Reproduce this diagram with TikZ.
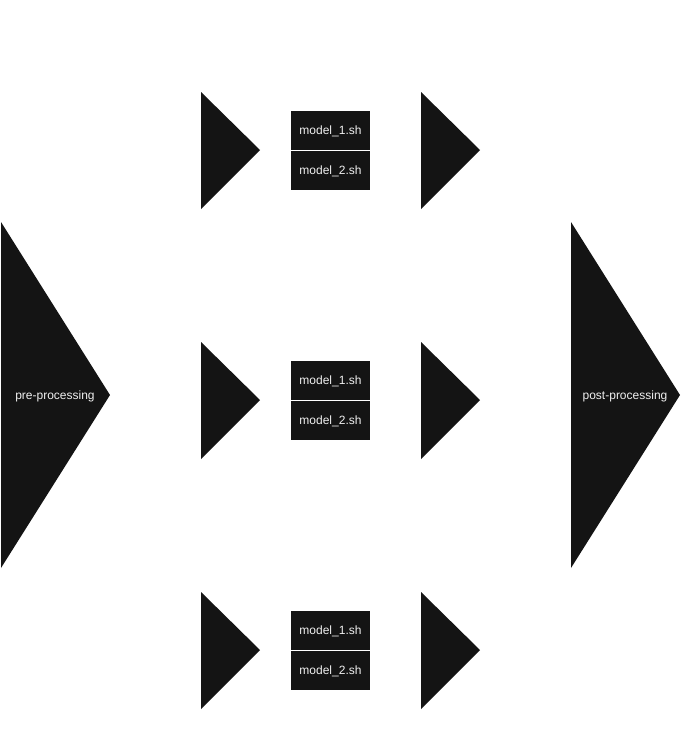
\documentclass[tikz,border=0pt]{standalone}
\usepackage{fontspec}
\setmainfont{Liberation Sans}
\definecolor{shapefill}{HTML}{141414}
\definecolor{labeltext}{HTML}{F0F0F0}
\begin{document}
\begin{tikzpicture}[x=1pt,y=-1pt,
  tri/.style={fill=shapefill,draw=none},
  scriptbox/.style={fill=shapefill,draw=none,minimum width=79pt,minimum height=39pt,inner sep=0pt,text=labeltext,font=\fontsize{12pt}{14pt}\selectfont},
  lbl/.style={text=labeltext,inner sep=0pt,font=\fontsize{12pt}{14pt}\selectfont}]
\useasboundingbox (0,0) rectangle (681,731);
% big triangles
\fill[tri] (1,222) -- (110,395) -- (1,568) -- cycle;
\node[lbl] (pre) at (55,396) {pre-processing};
\fill[tri] (571,222) -- (680,395) -- (571,568) -- cycle;
\node[lbl] (post) at (625,396) {post-processing};
% rows
\foreach \r/\c in {1/150,2/400,3/650}{
  \fill[tri] (201,\c-58) -- (260,\c) -- (201,\c+59) -- cycle;
  \fill[tri] (421,\c-58) -- (480,\c) -- (421,\c+59) -- cycle;
  \fill[tri] (291,\c-39) rectangle (370,\c);
  \fill[tri] (291,\c+1) rectangle (370,\c+40);
  \node[lbl] (m1r\r) at (330.5,\c-18.5) {model\_1.sh};
  \node[lbl] (m2r\r) at (330.5,\c+21.5) {model\_2.sh};
}
\end{tikzpicture}
\end{document}
